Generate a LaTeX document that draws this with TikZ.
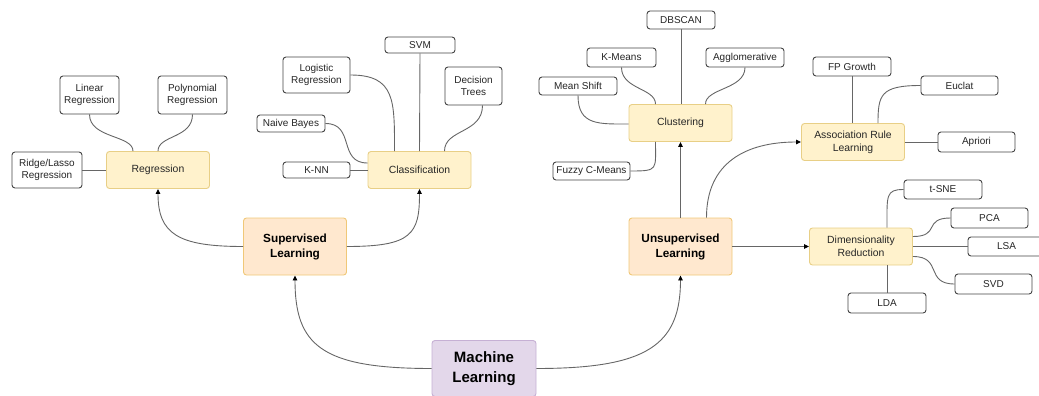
\documentclass[tikz,border=0pt]{standalone}
\usepackage{fontspec}
\setmainfont{Liberation Sans}
\usetikzlibrary{arrows.meta}

\definecolor{leafline}{HTML}{444444}
\definecolor{edgeline}{HTML}{666666}
\definecolor{catfill}{HTML}{FFF2CC}
\definecolor{catline}{HTML}{E8CF86}
\definecolor{kindfill}{HTML}{FFE8CF}
\definecolor{kindline}{HTML}{F0C878}
\definecolor{rootfill}{HTML}{E3D7EA}
\definecolor{rootline}{HTML}{C6B0D4}

\tikzset{
  box/.style={rounded corners=3pt, inner sep=0pt, align=center, line width=0.9pt},
  leaf/.style={box, draw=leafline, fill=white, text=black!85,
    font=\fontsize{10}{12.5}\selectfont},
  cat/.style={box, draw=catline, fill=catfill, text=black!85,
    minimum width=103pt, minimum height=37pt,
    font=\fontsize{10.4}{13}\selectfont},
  kind/.style={box, draw=kindline, fill=kindfill, text=black,
    minimum width=103pt, minimum height=57pt,
    font=\fontsize{11.8}{15}\selectfont\bfseries},
  root/.style={box, draw=rootline, fill=rootfill, text=black,
    minimum width=104pt, minimum height=56pt,
    font=\fontsize{15}{20}\selectfont\bfseries},
  link/.style={draw=edgeline, line width=0.9pt},
  arrow/.style={link, -{Triangle[length=5pt,width=4.5pt,color=black]}}
}

\begin{document}
\begin{tikzpicture}[x=1pt, y=-1pt]
\useasboundingbox (0,0) rectangle (1039,396);
\begin{scope}
\clip (0,0) rectangle (1039,396);

% root and the two learning families
\node[root] (ml)  at (484,368.5) {Machine\\Learning};
\node[kind] (sup) at (295,246.5) {Supervised\\Learning};
\node[kind] (uns) at (680.5,246.5) {Unsupervised\\Learning};

% supervised branch: regression
\node[cat]  (reg)   at (158,170) {Regression};
\node[leaf, minimum width=70pt, minimum height=36pt] (ridge) at (47,170) {Ridge/Lasso\\Regression};
\node[leaf, minimum width=59pt, minimum height=38pt] (lin)   at (89.5,95) {Linear\\Regression};
\node[leaf, minimum width=69pt, minimum height=38pt] (poly)  at (192.5,95) {Polynomial\\Regression};

% supervised branch: classification
\node[cat]  (cls) at (419.5,170) {Classification};
\node[leaf, minimum width=67pt, minimum height=16pt] (knn) at (316.5,170) {K-NN};
\node[leaf, minimum width=68pt, minimum height=17pt] (nb)  at (291,123.5) {Naive Bayes};
\node[leaf, minimum width=67pt, minimum height=36pt] (log) at (316.5,75) {Logistic\\Regression};
\node[leaf, minimum width=70pt, minimum height=16pt] (svm) at (420,45) {SVM};
\node[leaf, minimum width=57pt, minimum height=38pt] (dt)  at (473.5,86) {Decision\\Trees};

% unsupervised branch: clustering
\node[cat]  (clu) at (680.5,123) {Clustering};
\node[leaf, minimum width=68pt, minimum height=18pt] (dbs) at (681,20) {DBSCAN};
\node[leaf, minimum width=69pt, minimum height=19pt] (km)  at (621.5,57.5) {K-Means};
\node[leaf, minimum width=78pt, minimum height=19pt] (agg) at (745,57.5) {Agglomerative};
\node[leaf, minimum width=78pt, minimum height=18pt] (ms)  at (578,86) {Mean Shift};
\node[leaf, minimum width=77pt, minimum height=18pt] (fcm) at (591.5,171) {Fuzzy C-Means};

% unsupervised branch: association rules
\node[cat]  (arl) at (853,142) {Association Rule\\Learning};
\node[leaf, minimum width=78pt, minimum height=19pt] (fp)  at (852,66.5) {FP Growth};
\node[leaf, minimum width=77pt, minimum height=19pt] (euc) at (959.5,85.5) {Euclat};
\node[leaf, minimum width=77pt, minimum height=20pt] (apr) at (976.5,142) {Apriori};

% unsupervised branch: dimensionality reduction
\node[cat]  (dr)   at (861,246.5) {Dimensionality\\Reduction};
\node[leaf, minimum width=78pt, minimum height=19pt] (tsne) at (943,189.5) {t-SNE};
\node[leaf, minimum width=77pt, minimum height=20pt] (pca)  at (989.5,218) {PCA};
\node[leaf, minimum width=77pt, minimum height=19pt] (lsa)  at (1006.5,246.5) {LSA};
\node[leaf, minimum width=77pt, minimum height=20pt] (svd)  at (993.5,284) {SVD};
\node[leaf, minimum width=78pt, minimum height=20pt] (lda)  at (887,303) {LDA};

% root to families
\draw[arrow] (ml.west) .. controls +(-110,0) and +(0,70) .. (sup.south);
\draw[arrow] (ml.east) .. controls +(110,0) and +(0,70) .. (uns.south);

% families to categories
\draw[arrow] (sup.west) .. controls +(-65,0) and +(0,45) .. (reg.south);
\draw[arrow] (sup.east) .. controls +(65,0) and +(0,45) .. (cls.south);
\draw[arrow] (uns.north) -- (clu.south);
\draw[arrow] ([xshift=26pt]uns.north) .. controls +(0,-55) and +(-55,0) .. (arl.west);
\draw[arrow] (uns.east) -- (dr.west);

% regression leaves
\draw[link] (ridge.east) -- (reg.west);
\draw[link] (lin.south) .. controls +(0,24) and +(0,-16) .. ([xshift=-25pt]reg.north);
\draw[link] (poly.south) .. controls +(0,24) and +(0,-16) .. (reg.north);

% classification leaves
\draw[link] (knn.east) -- (cls.west);
\draw[link] (nb.east) .. controls +(30,0) and +(-30,0) .. ([yshift=7pt]cls.west);
\draw[link] (log.east) .. controls +(45,0) and +(0,-50) .. ([xshift=-25pt]cls.north);
\draw[link] (svm.south) -- (cls.north);
\draw[link] ([xshift=9pt]dt.south) .. controls +(0,28) and +(0,-22) .. ([xshift=25pt]cls.north);

% clustering leaves
\draw[link] (dbs.south) -- (dbs.south |- clu.north);
\draw[link] (km.south) .. controls +(0,22) and +(0,-16) .. ([xshift=-25pt]clu.north);
\draw[link] (agg.south) .. controls +(0,22) and +(0,-16) .. ([xshift=25pt]clu.north);
\draw[link] (ms.south) .. controls +(0,30) and +(-30,0) .. ([yshift=-1pt]clu.west);
\draw[link] (fcm.east) .. controls +(28,0) and +(0,28) .. ([xshift=-25pt]clu.south);

% association rule leaves
\draw[link] (fp.south) -- (fp.south |- arl.north);
\draw[link] (euc.west) .. controls +(-40,0) and +(0,-28) .. ([xshift=25pt]arl.north);
\draw[link] (arl.east) -- (apr.west);

% dimensionality reduction leaves
\draw[link] ([xshift=26pt]dr.north) .. controls +(0,-32) and +(-18,0) .. (tsne.west);
\draw[link] ([yshift=10pt]dr.east) .. controls +(28,0) and +(-28,0) .. (pca.west);
\draw[link] (dr.east) -- (lsa.west);
\draw[link] ([yshift=-10pt]dr.east) .. controls +(30,0) and +(-30,0) .. (svd.west);
\draw[link] ([xshift=26pt]dr.south) -- (lda.north);
\end{scope}
\end{tikzpicture}
\end{document}
